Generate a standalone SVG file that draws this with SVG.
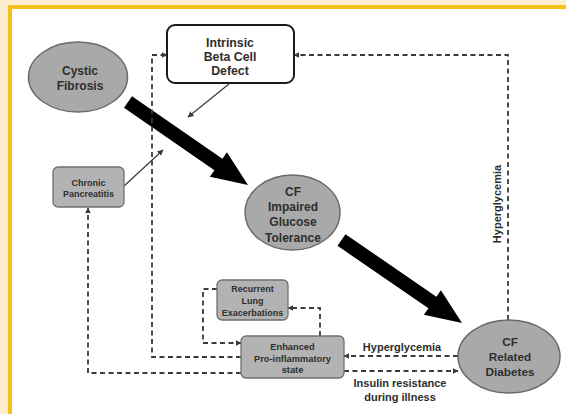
<svg xmlns="http://www.w3.org/2000/svg" width="566" height="414" viewBox="0 0 566 414">
<style>
.t{font-family:"Liberation Sans",Arial,sans-serif;font-weight:bold;fill:#2e2e2e;text-anchor:middle}
.ell{fill:#a9a9a9;stroke:#6a6a6a;stroke-width:1.5}
.gbox{fill:#b3b3b3;stroke:#707070;stroke-width:1.3}
.dash{fill:none;stroke:#3a3a3a;stroke-width:1.8;stroke-dasharray:5 3.5}
.thin{fill:none;stroke:#3a3a3a;stroke-width:1.2}
.big{fill:#000}
</style>
<defs>
<marker id="ah" viewBox="0 0 10 10" refX="9" refY="5" markerWidth="6" markerHeight="6" markerUnits="userSpaceOnUse" orient="auto">
<path d="M0,0 L10,5 L0,10 z" fill="#3a3a3a"/>
</marker>
</defs>
<rect x="0" y="0" width="566" height="414" fill="#fdeed0"/>
<rect x="8" y="5" width="558" height="409" fill="#f5c21b"/>
<rect x="12" y="9" width="554" height="405" fill="#ffffff"/>

<g id="connectors">
<polygon class="big" points="124,107.8 132,96.2 222.4,158.7 226.9,152.2 248,185 209.9,176.8 214.4,170.3"/>
<polygon class="big" points="337.5,245.8 345.5,234.2 436.4,296.7 440.9,290.2 462,323 423.9,314.8 428.4,308.3"/>
<line class="thin" x1="229" y1="84" x2="188" y2="117" marker-end="url(#ah)"/>
<line class="thin" x1="124" y1="186" x2="163" y2="150" marker-end="url(#ah)"/>
<polyline class="dash" points="241,357 152,357 152,55 167,55" marker-end="url(#ah)"/>
<polyline class="dash" points="241,373 88,373 88,208" marker-end="url(#ah)"/>
<polyline class="dash" points="320,336 320,308 288,308" marker-end="url(#ah)"/>
<polyline class="dash" points="217,289 203,289 203,343 241,343" marker-end="url(#ah)"/>
<line class="dash" x1="458" y1="356" x2="344" y2="356" marker-end="url(#ah)"/>
<line class="dash" x1="344" y1="371" x2="458" y2="371" marker-end="url(#ah)"/>
<polyline class="dash" points="508,320 508,55 294,55" marker-end="url(#ah)"/>
<text class="t" x="402" y="350.5" font-size="11">Hyperglycemia</text>
<text class="t" x="400" y="387" font-size="11">Insulin resistance</text>
<text class="t" x="400" y="401" font-size="11">during illness</text>
<text class="t" font-size="11" transform="translate(501,204) rotate(-90)">Hyperglycemia</text>
</g>

<g id="cystic-fibrosis">
<ellipse class="ell" cx="78" cy="77" rx="49.5" ry="35"/>
<text class="t" x="80" y="74.5" font-size="12">Cystic</text>
<text class="t" x="80" y="89.5" font-size="12">Fibrosis</text>
</g>

<g id="beta-cell-defect">
<rect x="167" y="25" width="127" height="58" rx="8" fill="#fff" stroke="#1a1a1a" stroke-width="2"/>
<text class="t" x="230" y="46.5" font-size="12.3">Intrinsic</text>
<text class="t" x="230" y="60.5" font-size="12.3">Beta Cell</text>
<text class="t" x="230" y="75" font-size="12.3">Defect</text>
</g>

<g id="chronic-pancreatitis">
<rect class="gbox" x="53" y="167" width="71" height="40" rx="5"/>
<text class="t" x="88.5" y="186" font-size="9">Chronic</text>
<text class="t" x="88.5" y="196.5" font-size="9">Pancreatitis</text>
</g>

<g id="cf-igt">
<ellipse class="ell" cx="292.5" cy="212.5" rx="47.5" ry="37.5"/>
<text class="t" x="293" y="195.5" font-size="12">CF</text>
<text class="t" x="293" y="210.5" font-size="12">Impaired</text>
<text class="t" x="293" y="226" font-size="12">Glucose</text>
<text class="t" x="293" y="241.5" font-size="12">Tolerance</text>
</g>

<g id="recurrent-lung">
<rect class="gbox" x="217" y="280" width="71" height="40" rx="5"/>
<text class="t" x="252.5" y="292.3" font-size="9">Recurrent</text>
<text class="t" x="252.5" y="304.3" font-size="9">Lung</text>
<text class="t" x="252.5" y="315.5" font-size="9">Exacerbations</text>
</g>

<g id="pro-inflammatory">
<rect class="gbox" x="241" y="336" width="103" height="42" rx="5"/>
<text class="t" x="292.5" y="350.3" font-size="9.3">Enhanced</text>
<text class="t" x="292.5" y="361.5" font-size="9.3">Pro-inflammatory</text>
<text class="t" x="292.5" y="373.3" font-size="9.3">state</text>
</g>

<g id="cfrd">
<ellipse class="ell" cx="509" cy="356.5" rx="51" ry="36.5"/>
<text class="t" x="510" y="346" font-size="11.8">CF</text>
<text class="t" x="510" y="361" font-size="11.8">Related</text>
<text class="t" x="510" y="376" font-size="11.8">Diabetes</text>
</g>
</svg>
